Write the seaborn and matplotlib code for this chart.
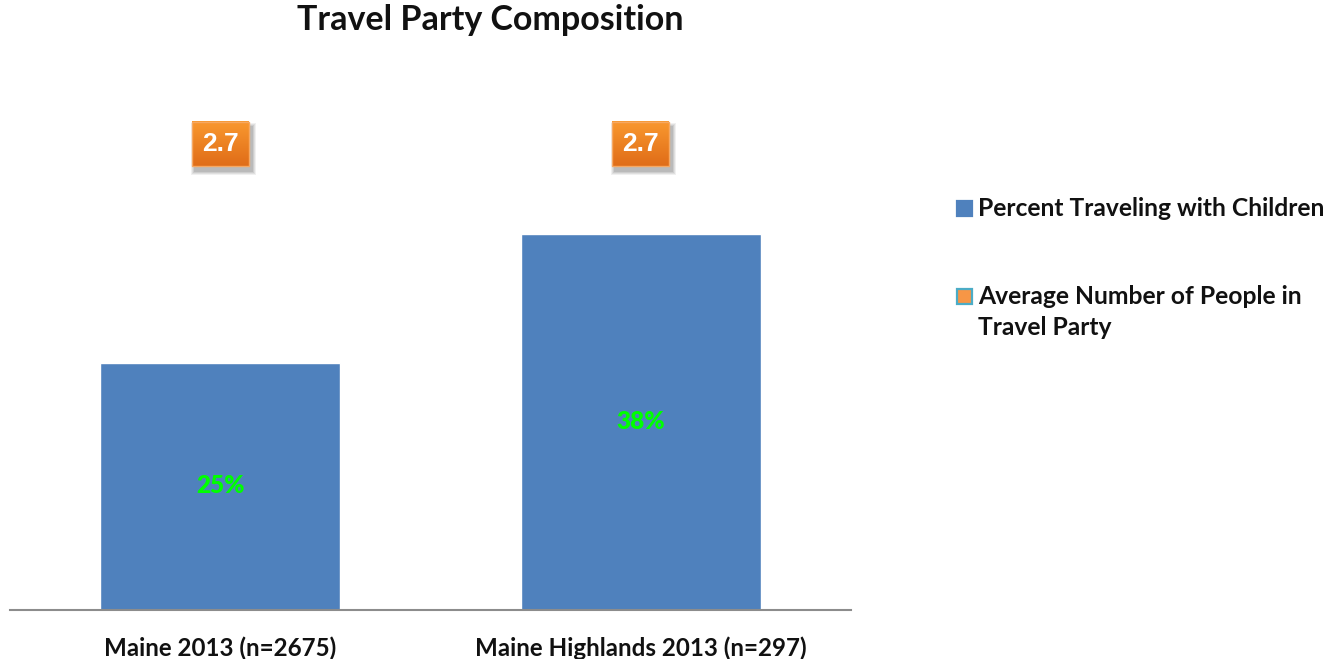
import numpy as np
import matplotlib
matplotlib.use("Agg")
import matplotlib.pyplot as plt
import seaborn as sns
from matplotlib.patches import Rectangle
from matplotlib.transforms import IdentityTransform

# Survey figures
categories = ["Maine 2013 (n=2675)", "Maine Highlands 2013 (n=297)"]
pct_with_children = [25, 38]
avg_party_size = [2.7, 2.7]

BLUE = "#4F81BD"
ORANGE = "#F79646"
INK = "#111111"

sns.set_theme(style="white")
plt.rcParams["font.family"] = ["Lato", "DejaVu Sans"]

W, H = 1330, 659
fig = plt.figure(figsize=(W / 100, H / 100), dpi=100)
ax = fig.add_axes([10 / W, 49 / H, 841 / W, 495 / H])

sns.barplot(x=categories, y=pct_with_children, color=BLUE, saturation=1,
            width=0.57, ax=ax)
ax.set_ylim(0, 50)
ax.set_xlim(-0.5, 1.5)

for sp in ["left", "right", "top"]:
    ax.spines[sp].set_visible(False)
ax.spines["bottom"].set_color("#8C8C8C")
ax.spines["bottom"].set_linewidth(1.5)
ax.set_yticks([])
ax.tick_params(axis="x", length=0, pad=19)
for lab in ax.get_xticklabels():
    lab.set_fontweight("bold")
    lab.set_fontsize(17.4)
    lab.set_color(INK)

# percentage labels in the middle of each bar
for i, v in enumerate(pct_with_children):
    ax.text(i, v / 2, f"{v}%", ha="center", va="center", color="#00FF00",
            fontsize=17.5, fontweight="heavy")

# secondary axis for the average party size
ax2 = ax.twinx()
ax2.set_ylim(0, 3)
ax2.plot(range(len(avg_party_size)), avg_party_size, alpha=0)
ax2.set_yticks([])
for sp in ax2.spines.values():
    sp.set_visible(False)

labels = []
for i, v in enumerate(avg_party_size):
    t = ax2.annotate(f"{v:.1f}", xy=(i, v), xytext=(0, 14.5), textcoords="offset points",
                     ha="center", va="center", fontsize=19, fontweight="bold",
                     family="Liberation Sans", color="white",
                     bbox=dict(boxstyle="square,pad=0.38", fc="#EE8123",
                               ec="#F6A862", lw=1), zorder=6)
    labels.append(t)

# gradient fill and soft drop shadow for each label box
fig.canvas.draw()
grad = np.linspace(0, 1, 64).reshape(-1, 1)
cmap = matplotlib.colors.LinearSegmentedColormap.from_list(
    "og", ["#F9982F", "#E06D18"])
inv = ax2.transData.inverted()
for t in labels:
    patch = t.get_bbox_patch()
    ext = patch.get_window_extent()
    for k, a in enumerate([0.06, 0.07, 0.08, 0.09]):
        grow = 4 - k
        ax2.add_patch(Rectangle((ext.x0 + 3 - grow, ext.y0 - 5 - grow),
                                ext.width + 2 * grow, ext.height + 2 * grow,
                                transform=IdentityTransform(), fc="black",
                                ec="none", alpha=a, zorder=3))
    (x0, y0), (x1, y1) = inv.transform([(ext.x0, ext.y0), (ext.x1, ext.y1)])
    ax2.imshow(grad, cmap=cmap, aspect="auto", origin="upper",
               extent=(x0, x1, y0, y1), zorder=4.5, interpolation="bilinear")
    patch.set_facecolor("none")
ax2.set_xlim(-0.5, 1.5)
ax2.set_ylim(0, 3)

# legend entries
def legend_entry(y_center, face, edge, lines):
    sq = 15
    fig.patches.append(Rectangle((957 / W, 1 - (y_center + sq / 2) / H),
                                 sq / W, sq / H, transform=fig.transFigure,
                                 fc=face, ec=edge, lw=1.6, figure=fig))
    for j, line in enumerate(lines):
        fig.text(978 / W, 1 - (y_center + 31 * j) / H, line, ha="left",
                 va="center", fontsize=17.7, fontweight="bold", color=INK)

legend_entry(208.5, BLUE, BLUE, ["Percent Traveling with Children"])
legend_entry(296.5, ORANGE, "#4BACC6", ["Average Number of People in",
                                        "Travel Party"])

fig.suptitle("Travel Party Composition", x=490 / W, y=1 - 4 / H,
             va="top", fontsize=24.5, fontweight="bold", color=INK)

fig.savefig("out.png", dpi=100)
